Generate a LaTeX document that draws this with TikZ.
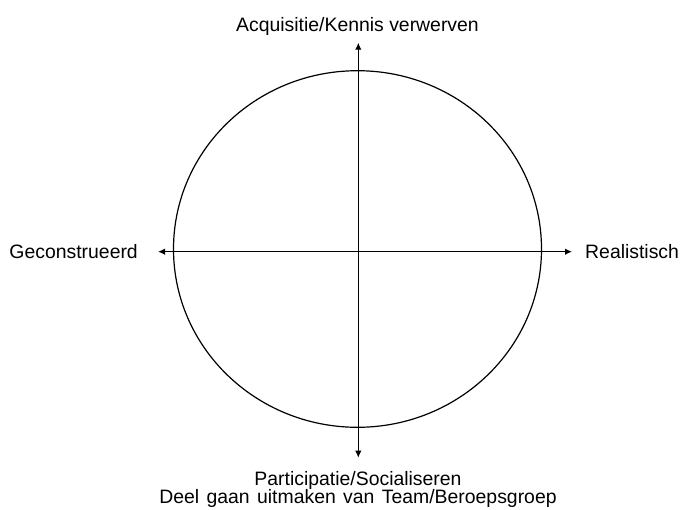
\documentclass[tikz,border=0pt]{standalone}
\usepackage{fontspec}
\setmainfont{Liberation Sans}
\usetikzlibrary{arrows.meta}
\begin{document}
\begin{tikzpicture}[x=1pt,y=-1pt,
  lbl/.style={inner sep=0pt, font=\fontsize{19.4}{18}\selectfont},
  axis/.style={line width=1.2pt, {Latex[length=7pt,width=6.5pt]}-{Latex[length=7pt,width=6.5pt]}},
  ring/.style={line width=1.2pt}]
\useasboundingbox (0,0) rectangle (680,509);
\draw[ring] (357.5,249) ellipse [x radius=184, y radius=178.3];
\coordinate (top) at (358.3,42.7);
\coordinate (bot) at (358.3,457.7);
\coordinate (lft) at (158,251.7);
\coordinate (rgt) at (572,251.7);
\draw[axis] (top) -- (bot);
\draw[axis] (lft) -- (rgt);
\node[lbl, anchor=base] (acq) at (357.5,31) {Acquisitie/Kennis verwerven};
\node[lbl, anchor=base east] (geo) at (138,258.3) {Geconstrueerd};
\node[lbl, anchor=base west] (rea) at (585,258.3) {Realistisch};
\node[lbl, anchor=base] (par) at (358,485) {Participatie/Socialiseren};
\node[lbl, anchor=base] (deel) at (358,503) {\spaceskip=0.38em\relax Deel gaan uitmaken van Team/Beroepsgroep};
\end{tikzpicture}
\end{document}
